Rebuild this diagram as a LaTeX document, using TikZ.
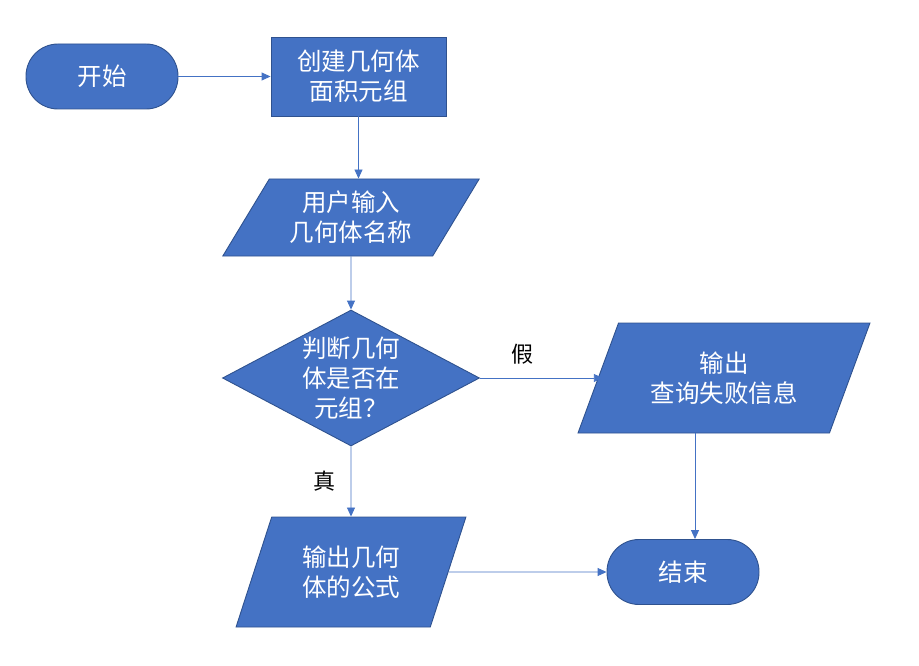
\documentclass[tikz,border=0pt]{standalone}
\usepackage{fontspec}
\setmainfont{Noto Sans CJK SC}
\usepackage{tikz}
\usetikzlibrary{shapes.geometric, arrows.meta, positioning}

\definecolor{boxblue}{HTML}{4472C4}
\definecolor{edgeblue}{HTML}{2F528F}

\begin{document}
\begin{tikzpicture}[
    x=1pt, y=-1pt,
    font=\fontsize{24.5}{30}\selectfont,
    >={Triangle[length=9pt, width=8pt]},
    terminal/.style={draw=edgeblue, fill=boxblue, text=white, rounded corners=32pt, line width=0.9pt, minimum width=152pt, minimum height=65pt, align=center},
    process/.style={draw=edgeblue, fill=boxblue, text=white, line width=0.9pt, minimum width=175pt, minimum height=79pt, align=center},
    io/.style={draw=edgeblue, fill=boxblue, text=white, line width=0.9pt, trapezium, trapezium stretches=true, trapezium left angle=#1, trapezium right angle=180-#1, inner sep=0pt, align=center},
    decision/.style={draw=edgeblue, fill=boxblue, text=white, line width=0.9pt, diamond, aspect=1.85, inner sep=0pt, minimum width=257pt, minimum height=136pt, align=center},
    arrow/.style={->, line width=0.9pt, boxblue},
    lbl/.style={text=black, font=\fontsize{22}{26}\selectfont}
]
\useasboundingbox (0,0) rectangle (919,666);

% Nodes
\node[terminal] (start) at (102, 76.5) {开始};
\node[process] (build) at (358.5, 76.5) {创建几何体\\面积元组};
\node[io=56.5, minimum width=257pt, minimum height=77pt] (input) at (351, 217.5) {用户输入\\几何体名称};
\node[decision] (check) at (351, 378) {判断几何\\体是否在\\元组？};
\node[io=61.8, minimum width=292pt, minimum height=110pt] (fail) at (724, 378) {输出\\查询失败信息};
\node[io=67.3, minimum width=230pt, minimum height=110pt] (formula) at (351, 572) {输出几何\\体的公式};
\node[terminal] (finish) at (683, 572) {结束};

% Arrows
\draw[arrow] (start.east) -- (build.west);
\draw[arrow] (build.south) -- (build.south |- input.north);
\draw[arrow] (input.south) -- (check.north);
\draw[arrow] (check.east) -- ([xshift=5pt]check.east -| fail.left side) node[pos=0.35, above=10pt, lbl] {假};
\draw[arrow] (check.south) -- (formula.north) node[midway, left=12pt, lbl] {真};
\draw[arrow] ([xshift=12pt]finish.north |- fail.south) -- ([xshift=12pt]finish.north);
\draw[arrow] (formula.east) -- (finish.west);

\end{tikzpicture}
\end{document}
